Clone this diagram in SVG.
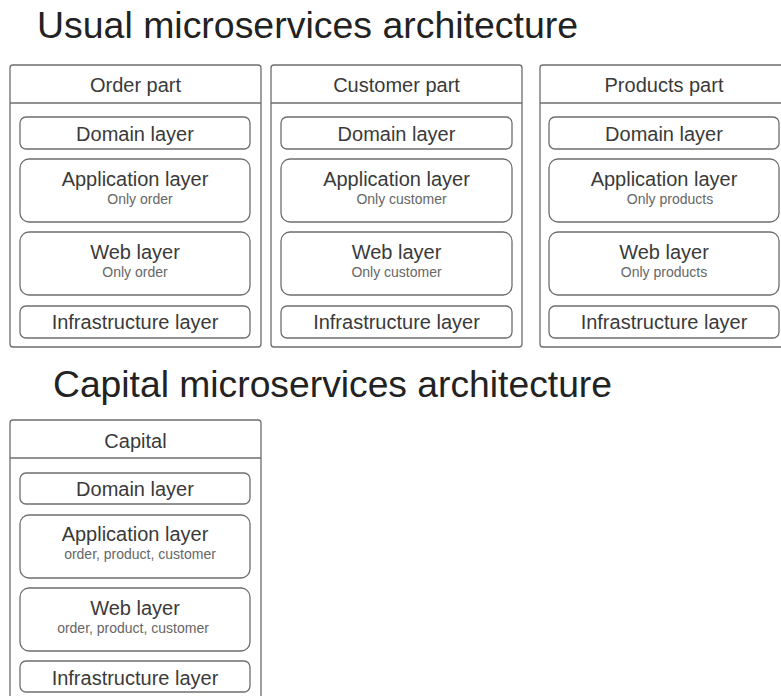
<svg xmlns="http://www.w3.org/2000/svg" width="781" height="696" viewBox="0 0 781 696">
<style>
.bg{fill:#fff}
.cont{fill:#fff;stroke:#6e6e6e;stroke-width:1.3}
.hdr{fill:none;stroke:#6e6e6e;stroke-width:1.3}
.layer{fill:#fff;stroke:#6e6e6e;stroke-width:1.3}
.title{font-family:"Liberation Sans",Arial,sans-serif;font-size:36px;fill:#222}
.t{font-family:"Liberation Sans",Arial,sans-serif;font-size:20px;fill:#3a3a3a;text-anchor:middle}
.s{font-family:"Liberation Sans",Arial,sans-serif;font-size:14px;fill:#666;text-anchor:middle}
</style>
<rect class="bg" x="0" y="0" width="781" height="696"/>
<text class="title" x="37" y="38" textLength="541" lengthAdjust="spacingAndGlyphs">Usual microservices architecture</text>
<text class="title" x="53" y="397" textLength="559" lengthAdjust="spacingAndGlyphs">Capital microservices architecture</text>

<g id="order-part">
<rect class="cont" x="10" y="65" width="251" height="282" rx="3"/>
<line class="hdr" x1="10" y1="103" x2="261" y2="103"/>
<text class="t" x="135.5" y="92">Order part</text>
<rect class="layer" x="20" y="117" width="230" height="32" rx="6"/>
<text class="t" x="135" y="141">Domain layer</text>
<rect class="layer" x="20" y="159" width="230" height="63" rx="9"/>
<text class="t" x="135" y="186">Application layer</text>
<text class="s" x="140" y="204">Only order</text>
<rect class="layer" x="20" y="232" width="230" height="63" rx="9"/>
<text class="t" x="135" y="259">Web layer</text>
<text class="s" x="135" y="277">Only order</text>
<rect class="layer" x="20" y="306" width="230" height="32" rx="6"/>
<text class="t" x="135" y="329">Infrastructure layer</text>
</g>

<g id="customer-part">
<rect class="cont" x="271" y="65" width="251" height="282" rx="3"/>
<line class="hdr" x1="271" y1="103" x2="522" y2="103"/>
<text class="t" x="396.5" y="92">Customer part</text>
<rect class="layer" x="281" y="117" width="231" height="32" rx="6"/>
<text class="t" x="396.5" y="141">Domain layer</text>
<rect class="layer" x="281" y="159" width="231" height="63" rx="9"/>
<text class="t" x="396.5" y="186">Application layer</text>
<text class="s" x="401.5" y="204">Only customer</text>
<rect class="layer" x="281" y="232" width="231" height="63" rx="9"/>
<text class="t" x="396.5" y="259">Web layer</text>
<text class="s" x="396.5" y="277">Only customer</text>
<rect class="layer" x="281" y="306" width="231" height="32" rx="6"/>
<text class="t" x="396.5" y="329">Infrastructure layer</text>
</g>

<g id="products-part">
<rect class="cont" x="540" y="65" width="251" height="282" rx="3"/>
<line class="hdr" x1="540" y1="103" x2="791" y2="103"/>
<text class="t" x="664" y="92">Products part</text>
<rect class="layer" x="549" y="117" width="230" height="32" rx="6"/>
<text class="t" x="664" y="141">Domain layer</text>
<rect class="layer" x="549" y="159" width="230" height="63" rx="9"/>
<text class="t" x="664" y="186">Application layer</text>
<text class="s" x="670" y="204">Only products</text>
<rect class="layer" x="549" y="232" width="230" height="63" rx="9"/>
<text class="t" x="664" y="259">Web layer</text>
<text class="s" x="664" y="277">Only products</text>
<rect class="layer" x="549" y="306" width="230" height="32" rx="6"/>
<text class="t" x="664" y="329">Infrastructure layer</text>
</g>

<g id="capital">
<rect class="cont" x="10" y="420" width="251" height="284" rx="3"/>
<line class="hdr" x1="10" y1="458" x2="261" y2="458"/>
<text class="t" x="135.5" y="448">Capital</text>
<rect class="layer" x="20" y="473" width="230" height="31" rx="6"/>
<text class="t" x="135" y="496">Domain layer</text>
<rect class="layer" x="20" y="515" width="230" height="63" rx="9"/>
<text class="t" x="135" y="541">Application layer</text>
<text class="s" x="140" y="559">order, product, customer</text>
<rect class="layer" x="20" y="588" width="230" height="63" rx="9"/>
<text class="t" x="135" y="615">Web layer</text>
<text class="s" x="133" y="633">order, product, customer</text>
<rect class="layer" x="20" y="661" width="230" height="31" rx="6"/>
<text class="t" x="135" y="685">Infrastructure layer</text>
</g>

<g id="connectors"/>
</svg>
